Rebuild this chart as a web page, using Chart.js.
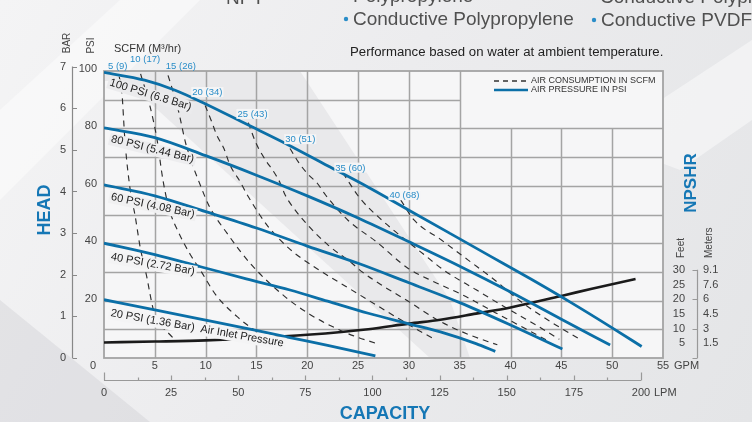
<!DOCTYPE html>
<html>
<head>
<meta charset="utf-8">
<title>Pump performance curve</title>
<script src="https://cdn.jsdelivr.net/npm/chart.js@4.4.1/dist/chart.umd.min.js"></script>
<style>
  html, body { margin: 0; padding: 0; background: #eaebed; }
  #wrap { width: 752px; height: 422px; }
</style>
</head>
<body>
<div id="wrap"><canvas id="pumpChart" width="752" height="422"></canvas></div>
<script>
// ---- DATA ----
// air pressure curves: [GPM, head in PSI]
const psi100 = [[0,99.5],[4,96.8],[7,93.3],[10,88.5],[14,81.5],[18,74.5],[22,67],[26,59.5],[30,51.5],[34,43.5],[38,35.5],[42,27.5],[46,19.2],[50,10.5],[52.9,4]];
const psi80  = [[0,80.2],[5,76.8],[10,70.5],[15,63.7],[20,56.5],[25,48.8],[30,40.5],[35,32],[40,23],[45,13.5],[49.8,4.5]];
const psi60  = [[0,60.3],[5,56.5],[10,51],[15,45.3],[20,39],[25,33],[30,26.2],[35,19.3],[40,11.5],[45.1,3.1]];
const psi40  = [[0,40],[5,36],[9.5,31.8],[14,27.6],[18.3,23.7],[22,19.8],[26,15.6],[30,11.9],[33.1,9.1],[36.6,5],[38.5,2.3]];
const psi20  = [[0,20.3],[5,16.8],[10,13.2],[14,10.3],[18.3,7.1],[22,4.4],[26.7,0.7]];

// air consumption curves (SCFM): [GPM, PSI]
const scfm5  = [[1.5,98],[1.75,93],[2.07,75.3],[2.56,59.1],[3.05,49.8],[3.55,38.8],[4.2,28.4],[4.86,16.8],[5.6,11.5],[6.5,8.1],[7.0,6.3]];
const scfm10 = [[3.6,99],[4.5,88.1],[5.2,76.5],[5.8,62],[6.4,52],[7.3,44],[8.5,36],[9.5,30.5],[11,22],[13.1,14.4],[15.1,9.1],[17.5,5.3]];
const scfm15 = [[6.3,98.5],[7.2,88],[8.1,74],[9.5,60],[10.4,52.6],[12.1,43.5],[14.5,32.5],[17.8,21.4],[20.3,15.1],[22.8,10.4],[24.5,7.8],[26.7,5.2]];
const scfm20 = [[9.95,88],[10.6,82.3],[11.1,77.6],[11.8,73],[12.4,67.2],[13.4,61.4],[14.1,56.8],[16,46.5],[18.2,38.2],[21,31],[24,24.5],[27,18],[29.2,13.3],[31,9.5],[32.3,7]];
const scfm25 = [[14.2,82],[14.9,75.3],[15.4,71.8],[16,68.4],[16.7,64.9],[17.3,61.2],[17.8,57],[18.5,53],[20,46.5],[22,39.5],[24.4,33],[25.4,30],[27.5,25],[29.7,20.3],[33.1,12.7],[36,8],[38.7,4.6]];
const scfm30 = [[18.3,73],[19.1,68.4],[20,64.3],[21,60.8],[21.8,56.8],[24,48],[26.8,40.5],[29.9,31.3],[32.5,26.5],[35.1,22.3],[38.5,15.8],[42,9.2],[43.5,6.3]];
const scfm35 = [[23.5,64.5],[25.2,55.6],[27.1,48.8],[29.3,42.2],[31.5,36],[33.4,30.7],[36.5,24],[39.8,17],[42.5,11.5],[44.8,6.5]];
const scfm40 = [[29.2,55],[30.5,48.1],[33.2,41.1],[35.8,34.2],[38.5,27],[41,19.7],[44,12.5],[46.9,6.4]];

// NPSHR curve: [GPM, feet]
const npshr = [[0,5.3],[5,5.6],[10,6],[15,6.8],[20,7.9],[26,9.8],[30,11.7],[33.1,13],[36.6,15.1],[40,17.2],[45.1,21.2],[48,23.6],[52.3,26.9]];

// tick labels
const gpmTicks = [5,10,15,20,25,30,35,40,45,50,55];
const psiTicks = [20,40,60,80,100];
const barTicks = [0,1,2,3,4,5,6,7];
const lpmMajor = [0,25,50,75,100,125,150,175,200];
const lpmMinor = [12.5,37.5,62.5,87.5,112.5,137.5,162.5,187.5];
const npshFeet = [5,10,15,20,25,30];
const npshMeters = ['1.5','3','4.5','6','7.6','9.1'];
const psiCurveLabels = ['100 PSI (6.8 Bar)','80 PSI (5.44 Bar)','60 PSI (4.08 Bar)','40 PSI (2.72 Bar)','20 PSI (1.36 Bar)  Air Inlet Pressure'];
const scfmLabels = ['5 (9)','10 (17)','15 (26)','20 (34)','25 (43)','30 (51)','35 (60)','40 (68)'];

const FONT = '"Liberation Sans", Arial, Helvetica, sans-serif';
const BLUE_LINE = '#0b6fa7';
const BLUE_TEXT = '#2a8dc8';
const GRID = '#a4a4a4';

const toXY = arr => arr.map(p => ({ x: p[0], y: p[1] }));

function blueSet(arr) {
    return { data: toXY(arr), borderColor: BLUE_LINE, borderWidth: 2.8, cubicInterpolationMode: 'monotone', pointRadius: 0, fill: false };
}
function dashSet(arr) {
    return { data: toXY(arr), borderColor: '#2e2e2e', borderWidth: 1.15, borderDash: [6, 5], cubicInterpolationMode: 'monotone', pointRadius: 0, fill: false };
}

// ---- decoration plugin (background, grid, axes, labels) ----
const chartDecor = {
    id: 'chartDecor',
    beforeDraw(chart) {
        const ctx = chart.ctx, a = chart.chartArea;
        ctx.save();
        // page background
        let g = ctx.createLinearGradient(0, 0, 752, 422);
        g.addColorStop(0, '#f4f4f5');
        g.addColorStop(0.45, '#ececee');
        g.addColorStop(1, '#e4e5e7');
        ctx.fillStyle = g;
        ctx.fillRect(0, 0, 752, 422);
        // soft white streaks
        ctx.fillStyle = 'rgba(255,255,255,0.45)';
        ctx.beginPath(); ctx.moveTo(0, 110); ctx.lineTo(120, 0); ctx.lineTo(200, 0); ctx.lineTo(0, 200); ctx.fill();
        ctx.beginPath(); ctx.moveTo(600, 140); ctx.lineTo(752, 40); ctx.lineTo(752, 120); ctx.lineTo(680, 170); ctx.fill();
        ctx.fillStyle = 'rgba(200,201,205,0.35)';
        ctx.beginPath(); ctx.moveTo(0, 300); ctx.lineTo(150, 422); ctx.lineTo(0, 422); ctx.fill();
        // plot area
        ctx.fillStyle = '#f6f6f7';
        ctx.fillRect(a.left, a.top, a.right - a.left, a.bottom - a.top);
        ctx.beginPath();
        ctx.rect(a.left, a.top, a.right - a.left, a.bottom - a.top);
        ctx.clip();
        ctx.fillStyle = '#e9e9eb';
        ctx.beginPath();
        ctx.moveTo(a.left, a.top); ctx.lineTo(300, a.top); ctx.lineTo(450, 300);
        ctx.lineTo(470, a.bottom); ctx.lineTo(430, a.bottom); ctx.lineTo(126, a.top + 10); ctx.lineTo(a.left, a.top + 10);
        ctx.fill();
        ctx.restore();
    },
    beforeDatasetsDraw(chart) {
        const ctx = chart.ctx, a = chart.chartArea;
        const sx = chart.scales.x, sy = chart.scales.y;
        ctx.save();
        ctx.strokeStyle = GRID;
        ctx.lineWidth = 1.5;
        ctx.beginPath();
        for (let g = 5; g <= 50; g += 5) {
            const x = Math.round(sx.getPixelForValue(g)) + 0.5;
            const top = g > 35 ? sy.getPixelForValue(80) : a.top;
            ctx.moveTo(x, top); ctx.lineTo(x, a.bottom);
        }
        for (let p = 10; p <= 90; p += 10) {
            const y = Math.round(sy.getPixelForValue(p)) + 0.5;
            const right = p > 80 ? sx.getPixelForValue(35) : a.right;
            ctx.moveTo(a.left, y); ctx.lineTo(right, y);
        }
        ctx.stroke();
        ctx.lineWidth = 1.8;
        ctx.strokeRect(a.left, a.top, a.right - a.left, a.bottom - a.top);
        ctx.restore();
    },
    afterDatasetsDraw(chart) {
        const ctx = chart.ctx;
        const sx = chart.scales.x, sy = chart.scales.y;
        ctx.save();
        // curve labels under each pressure line
        const spots = [[0.5, 95.0, 17, '#ebebed'], [0.65, 75.3, 14, '#ededef'], [0.65, 55.1, 12, '#f0f0f1'], [0.64, 34.2, 10, '#f3f3f4'], [0.62, 14.6, 10, '#f4f4f5']];
        ctx.font = '11px ' + FONT;
        ctx.textAlign = 'left';
        ctx.textBaseline = 'alphabetic';
        psiCurveLabels.forEach((t, i) => {
            const s = spots[i];
            const x = sx.getPixelForValue(s[0]), y = sy.getPixelForValue(s[1]);
            ctx.save();
            ctx.translate(x, y);
            ctx.rotate(s[2] * Math.PI / 180);
            const w = ctx.measureText(t).width;
            ctx.fillStyle = s[3];
            ctx.fillRect(-2, -9, w + 4, 12.5);
            ctx.fillStyle = '#222';
            ctx.fillText(t, 0, 0);
            ctx.restore();
        });
        // SCFM labels
        const scfmSpots = [[0.39, 100.8], [2.56, 103.1], [6.08, 100.8], [8.69, 91.6], [13.13, 84.0], [17.83, 75.2], [22.76, 65.3], [28.08, 55.7]];
        ctx.font = '9.5px ' + FONT;
        scfmLabels.forEach((t, i) => {
            const x = sx.getPixelForValue(scfmSpots[i][0]), y = sy.getPixelForValue(scfmSpots[i][1]);
            const w = ctx.measureText(t).width;
            if (scfmSpots[i][1] < 100) {
                ctx.fillStyle = 'rgba(246,246,247,0.95)';
                ctx.fillRect(x - 1, y - 8, w + 2, 10);
            }
            ctx.fillStyle = BLUE_TEXT;
            ctx.fillText(t, x, y);
        });
        ctx.restore();
    },
    afterDraw(chart) {
        const ctx = chart.ctx, a = chart.chartArea;
        const sx = chart.scales.x, sy = chart.scales.y;
        const sl = chart.scales.lpm, sb = chart.scales.bar, sn = chart.scales.npsh;
        ctx.save();

        // header texts (cut by the top edge)
        ctx.fillStyle = '#505050';
        ctx.font = '19px ' + FONT;
        ctx.textAlign = 'left';
        ctx.textBaseline = 'alphabetic';
        ctx.fillText('NPT', 226, 4);
        ctx.fillText('Polypropylene', 353, 2);
        ctx.fillText('Conductive Polypropylene', 600, 3);
        ctx.fillText('Conductive Polypropylene', 353, 25);
        ctx.fillText('Conductive PVDF', 601, 26);
        ctx.fillStyle = BLUE_TEXT;
        ctx.beginPath(); ctx.arc(346, 19, 2.2, 0, Math.PI * 2); ctx.fill();
        ctx.beginPath(); ctx.arc(594, 20, 2.2, 0, Math.PI * 2); ctx.fill();

        ctx.fillStyle = '#222';
        ctx.font = '12px ' + FONT;
        ctx.save();
        ctx.translate(350, 56);
        ctx.scale(1.1, 1);
        ctx.fillText('Performance based on water at ambient temperature.', 0, 0);
        ctx.restore();

        // legend box
        ctx.strokeStyle = '#333';
        ctx.lineWidth = 1.3;
        ctx.setLineDash([5, 4]);
        ctx.beginPath(); ctx.moveTo(494, 81); ctx.lineTo(528, 81); ctx.stroke();
        ctx.setLineDash([]);
        ctx.strokeStyle = BLUE_LINE;
        ctx.lineWidth = 2.6;
        ctx.beginPath(); ctx.moveTo(494, 90); ctx.lineTo(528, 90); ctx.stroke();
        ctx.fillStyle = '#333';
        ctx.font = '9px ' + FONT;
        ctx.textBaseline = 'middle';
        ctx.fillText('AIR CONSUMPTION IN SCFM', 531, 81);
        ctx.fillText('AIR PRESSURE IN PSI', 531, 90);

        // SCFM unit caption
        ctx.font = '11px ' + FONT;
        ctx.textBaseline = 'alphabetic';
        ctx.fillText('SCFM (M\u00B3/hr)', 114, 52);

        // BAR axis
        ctx.fillStyle = '#444';
        ctx.strokeStyle = '#888';
        ctx.lineWidth = 1.2;
        ctx.beginPath();
        ctx.moveTo(72.5, sb.getPixelForValue(0)); ctx.lineTo(72.5, sb.getPixelForValue(7));
        barTicks.forEach(b => {
            const y = Math.round(sb.getPixelForValue(b)) + 0.5;
            ctx.moveTo(72.5, y); ctx.lineTo(77, y);
        });
        ctx.stroke();
        ctx.font = '11px ' + FONT;
        ctx.textAlign = 'right';
        ctx.textBaseline = 'middle';
        barTicks.forEach(b => ctx.fillText(String(b), 66, sb.getPixelForValue(b)));

        // PSI axis labels
        psiTicks.forEach(p => ctx.fillText(String(p), 97, sy.getPixelForValue(p) - 2));

        // GPM axis labels
        ctx.textAlign = 'center';
        ctx.fillText('0', 93, 366);
        gpmTicks.forEach(g => ctx.fillText(String(g), sx.getPixelForValue(g), 366));
        ctx.textAlign = 'left';
        ctx.fillText('GPM', 674, 366);

        // LPM axis
        const ly = 380.5;
        ctx.strokeStyle = '#999';
        ctx.lineWidth = 1.2;
        ctx.beginPath();
        ctx.moveTo(sl.getPixelForValue(0), ly); ctx.lineTo(sl.getPixelForValue(200), ly);
        lpmMajor.forEach(v => {
            const x = Math.round(sl.getPixelForValue(v)) + 0.5;
            const len = (v === 0 || v === 200) ? 8 : 5;
            ctx.moveTo(x, ly); ctx.lineTo(x, ly - len);
        });
        lpmMinor.forEach(v => {
            const x = Math.round(sl.getPixelForValue(v)) + 0.5;
            ctx.moveTo(x, ly); ctx.lineTo(x, ly - 3);
        });
        ctx.stroke();
        ctx.textAlign = 'center';
        lpmMajor.forEach(v => ctx.fillText(String(v), sl.getPixelForValue(v), 393));
        ctx.textAlign = 'left';
        ctx.fillText('LPM', 654, 393);

        // NPSHR axis
        const nx = 697.5;
        ctx.beginPath();
        ctx.moveTo(nx, sn.getPixelForValue(30)); ctx.lineTo(nx, sn.getPixelForValue(0));
        [0, 10, 20, 30].forEach(f => {
            const y = Math.round(sn.getPixelForValue(f)) + 0.5;
            ctx.moveTo(nx, y); ctx.lineTo(nx - 5, y);
        });
        ctx.stroke();
        ctx.textAlign = 'right';
        npshFeet.forEach(f => ctx.fillText(String(f), 685, sn.getPixelForValue(f)));
        ctx.textAlign = 'left';
        npshFeet.forEach((f, i) => ctx.fillText(npshMeters[i], 703, sn.getPixelForValue(f)));

        // rotated titles
        const vText = (t, x, y, font, color, align) => {
            ctx.save();
            ctx.translate(x, y);
            ctx.rotate(-Math.PI / 2);
            ctx.font = font;
            ctx.fillStyle = color;
            ctx.textAlign = align;
            ctx.textBaseline = 'middle';
            ctx.fillText(t, 0, 0);
            ctx.restore();
        };
        vText('BAR', 67.5, 43, '10px ' + FONT, '#444', 'center');
        vText('PSI', 91, 45.5, '10px ' + FONT, '#444', 'center');
        vText('HEAD', 45, 210, 'bold 18px ' + FONT, '#1577b5', 'center');
        vText('NPSHR', 691, 183, 'bold 17px ' + FONT, '#1577b5', 'center');
        vText('Feet', 681, 258, '10px ' + FONT, '#444', 'left');
        vText('Meters', 709, 258, '10px ' + FONT, '#444', 'left');

        ctx.font = 'bold 18px ' + FONT;
        ctx.fillStyle = '#1577b5';
        ctx.textAlign = 'center';
        ctx.textBaseline = 'alphabetic';
        ctx.fillText('CAPACITY', 385, 419);
        ctx.restore();
    }
};

const ctx = document.getElementById('pumpChart').getContext('2d');
window.pumpChartInstance = new Chart(ctx, {
    type: 'line',
    data: {
        datasets: [
            blueSet(psi100), blueSet(psi80), blueSet(psi60), blueSet(psi40), blueSet(psi20),
            { data: toXY(npshr), yAxisID: 'npsh', borderColor: '#1b1b1b', borderWidth: 2.6, cubicInterpolationMode: 'monotone', pointRadius: 0, fill: false },
            dashSet(scfm5), dashSet(scfm10), dashSet(scfm15), dashSet(scfm20),
            dashSet(scfm25), dashSet(scfm30), dashSet(scfm35), dashSet(scfm40)
        ]
    },
    options: {
        responsive: false,
        animation: false,
        layout: { padding: { left: 104, right: 89, top: 71, bottom: 64 } },
        scales: {
            x: { type: 'linear', min: 0, max: 55, display: false },
            y: { type: 'linear', min: 0, max: 100, display: false },
            lpm: { type: 'linear', axis: 'x', min: 0, max: 55 * 3.78541, display: false },
            bar: { type: 'linear', axis: 'y', min: 0, max: 100 / 14.5038, display: false },
            npsh: { type: 'linear', axis: 'y', min: 0, max: 97.7, display: false }
        },
        plugins: {
            legend: { display: false },
            tooltip: { enabled: false }
        },
        events: []
    },
    plugins: [chartDecor]
});
</script>
</body>
</html>
